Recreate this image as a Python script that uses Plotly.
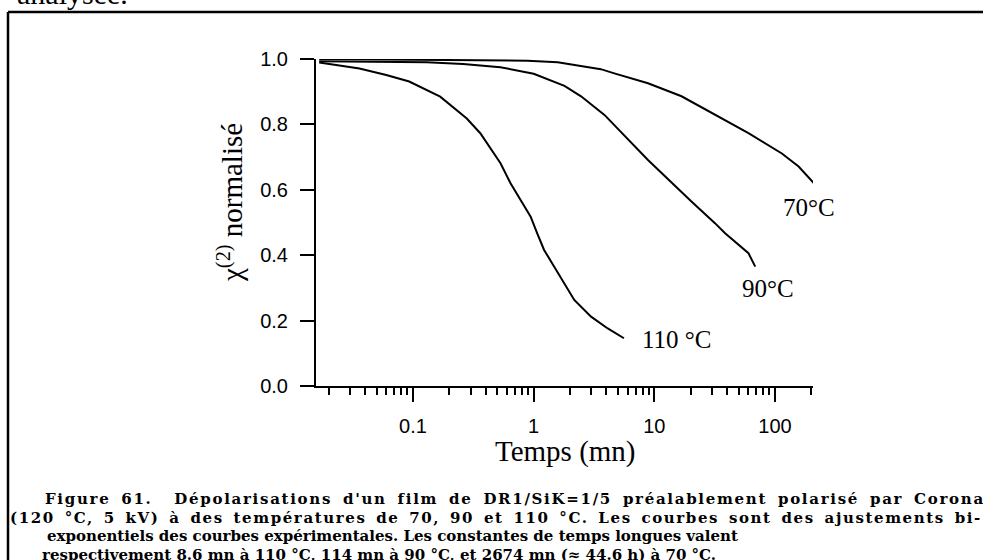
import plotly.graph_objects as go

# ---- data ----
t_110 = [0.0167, 0.036, 0.06, 0.093, 0.168, 0.279, 0.361, 0.531, 0.643, 0.78, 0.944, 1.07,
         1.22, 1.48, 1.79, 2.17, 2.99, 4.11, 5.6]
v_110 = [0.989, 0.971, 0.951, 0.931, 0.885, 0.818, 0.773, 0.681, 0.62, 0.569, 0.518, 0.467,
         0.416, 0.365, 0.314, 0.263, 0.212, 0.176, 0.146]

t_90 = [0.0167, 0.13, 0.26, 0.53, 1.0, 1.8, 2.47, 3.86, 8.86, 16.8, 20.3, 31.8, 38.6, 60.3, 68.6]
v_90 = [0.993, 0.99, 0.985, 0.975, 0.955, 0.918, 0.886, 0.829, 0.691, 0.592, 0.564, 0.498,
        0.467, 0.406, 0.365]

t_70 = [0.0167, 0.26, 0.89, 1.58, 2.47, 3.6, 4.66, 8.86, 16.8, 31.8, 60.3, 114, 157, 210]
v_70 = [1.0, 0.998, 0.995, 0.99, 0.979, 0.969, 0.956, 0.926, 0.886, 0.829, 0.773, 0.711,
        0.671, 0.62]

curve_labels = ["110 °C", "90°C", "70°C"]
y_ticks = [0.0, 0.2, 0.4, 0.6, 0.8, 1.0]
y_tick_labels = ["0.0", "0.2", "0.4", "0.6", "0.8", "1.0"]
x_ticks = [0.1, 1, 10, 100]
x_tick_labels = ["0.1", "1", "10", "100"]

x_title = "Temps (mn)"
y_title = "χ<sup>(2)</sup> normalisé"
top_text = "analysée."
caption_lines = [
    "Figure 61.  Dépolarisations d'un film de DR1/SiK=1/5 préalablement polarisé par Corona",
    "(120 °C, 5 kV) à des températures de 70, 90 et 110 °C. Les courbes sont des ajustements bi-",
    "exponentiels des courbes expérimentales. Les constantes de temps longues valent",
    "respectivement 8.6 mn à 110 °C, 114 mn à 90 °C, et 2674 mn (≈ 44.6 h) à 70 °C.",
]

# ---- layout geometry (pixels) ----
W, H = 983, 560
L, R, T, B = 316, 813, 59, 386


def px(x):
    return (x - L) / (R - L)


def py(y):
    return (B - y) / (B - T)


fig = go.Figure()
for t, v in [(t_110, v_110), (t_90, v_90), (t_70, v_70)]:
    fig.add_trace(go.Scatter(x=t, y=v, mode="lines", line=dict(color="black", width=2),
                             cliponaxis=False, showlegend=False, hoverinfo="skip"))

serif = "Liberation Serif"
sans = "Liberation Sans"

fig.update_layout(
    width=W, height=H,
    margin=dict(l=L, r=W - R, t=T, b=H - B, pad=0),
    paper_bgcolor="white", plot_bgcolor="white", showlegend=False,
)
fig.update_xaxes(
    type="log", range=[-1.804, 2.315],
    tickvals=x_ticks, ticktext=x_tick_labels,
    ticks="outside", ticklen=14, tickwidth=2, tickcolor="black",
    showline=True, linecolor="black", linewidth=2,
    showgrid=False, zeroline=False,
    tickfont=dict(family=sans, size=20, color="black"),
    ticklabelstandoff=7,
    minor=dict(ticks="outside", ticklen=7, tickwidth=2, tickcolor="black",
               showgrid=False, dtick="D1"),
)
fig.update_yaxes(
    range=[0, 1.0], tickvals=y_ticks, ticktext=y_tick_labels,
    ticks="outside", ticklen=14, tickwidth=2, tickcolor="black",
    showline=True, linecolor="black", linewidth=2,
    showgrid=False, zeroline=False,
    tickfont=dict(family=sans, size=20, color="black"),
    ticklabelstandoff=8,
)

ann = []
# curve labels
lab_font = dict(family=serif, size=25, color="black")
ann.append(dict(text=curve_labels[0], x=px(640), y=py(339), xanchor="left", yanchor="middle", font=lab_font))
ann.append(dict(text=curve_labels[1], x=px(768), y=py(288), xanchor="center", yanchor="middle", font=lab_font))
ann.append(dict(text=curve_labels[2], x=px(809), y=py(207), xanchor="center", yanchor="middle", font=lab_font))
# axis titles
ann.append(dict(text=x_title, x=px(565), y=py(451), xanchor="center", yanchor="middle",
                font=dict(family=serif, size=29, color="black")))
ann.append(dict(text=y_title, x=px(230), y=py(203), xanchor="center", yanchor="middle", textangle=-90,
                font=dict(family=serif, size=29, color="black")))
# top clipped text
ann.append(dict(text=top_text, x=px(15), y=py(12), xanchor="left", yanchor="bottom",
                font=dict(family=serif, size=30, color="black")))
# caption
cap_font = dict(family="DejaVu Serif", size=15, color="black", weight="bold")
cap_x = [43, 8, 45, 40]
cap_y = [499, 518, 536, 555]
cap_spacing = ["letter-spacing:1.7px;word-spacing:4px", "letter-spacing:1.6px;word-spacing:3px", "", ""]
for txt, cx, cy, sp in zip(caption_lines, cap_x, cap_y, cap_spacing):
    if sp:
        txt = '<span style="%s">%s</span>' % (sp, txt)
    ann.append(dict(text=txt, x=px(cx), y=py(cy), xanchor="left", yanchor="middle", font=cap_font))

for a in ann:
    a.update(xref="paper", yref="paper", showarrow=False)
fig.update_layout(annotations=ann)

# scanned frame
fig.add_shape(type="line", xref="paper", yref="paper", x0=px(8), x1=px(990), y0=py(12), y1=py(12),
              line=dict(color="black", width=2.5))
fig.add_shape(type="line", xref="paper", yref="paper", x0=px(8), x1=px(8), y0=py(12), y1=py(565),
              line=dict(color="black", width=2.5))

fig.write_html("out.html",
               config={"displayModeBar": False, "staticPlot": True},
               post_script="document.body.style.margin='0';document.body.style.padding='0';"
                           "document.body.style.overflow='hidden';")
